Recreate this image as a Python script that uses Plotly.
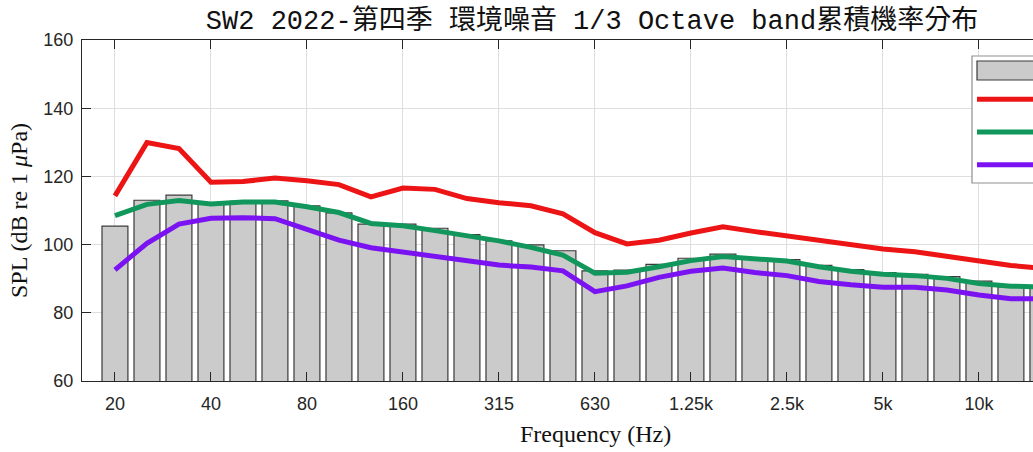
import plotly.graph_objects as go

# ---------------- data ----------------
bands = ["20", "25", "31.5", "40", "50", "63", "80", "100", "125", "160",
         "200", "250", "315", "400", "500", "630", "800", "1k", "1.25k", "1.6k",
         "2k", "2.5k", "3.15k", "4k", "5k", "6.3k", "8k", "10k", "12.5k", "16k"]

leq = [105.4, 113.0, 114.5, 112.3, 112.7, 112.8, 111.4, 109.3, 106.0, 106.0,
       104.8, 102.9, 101.1, 99.9, 98.2, 92.3, 92.5, 94.2, 96.0, 97.2,
       96.0, 95.6, 93.9, 92.7, 91.8, 91.3, 90.6, 89.3, 87.6, 87.2]

l10 = [114.3, 129.9, 128.2, 118.3, 118.5, 119.5, 118.7, 117.6, 114.0, 116.6,
       116.2, 113.5, 112.3, 111.4, 109.0, 103.5, 100.2, 101.3, 103.4, 105.2,
       103.8, 102.5, 101.4, 100.1, 98.7, 97.9, 96.5, 95.1, 93.9, 93.0]

l50 = [108.5, 111.8, 112.9, 111.9, 112.5, 112.5, 111.1, 109.4, 106.2, 105.5,
       104.1, 102.7, 101.1, 99.2, 96.9, 91.6, 91.9, 93.5, 95.3, 96.5,
       95.7, 95.2, 93.5, 92.2, 91.3, 90.9, 90.1, 88.6, 87.8, 87.6]

l90 = [92.6, 100.4, 106.0, 107.7, 107.9, 107.6, 104.5, 101.3, 99.1, 97.9,
       96.7, 95.2, 94.0, 93.4, 92.3, 86.2, 87.9, 90.4, 92.2, 93.1,
       91.8, 90.9, 89.2, 88.2, 87.5, 87.5, 86.7, 85.2, 84.1, 84.1]

tick_bands = ["20", "40", "80", "160", "315", "630", "1.25k", "2.5k", "5k", "10k"]

title_text = "SW2 2022-第四季 環境噪音 1/3 Octave band累積機率分布"

# ---------------- styles ----------------
BAR_FILL = "#cbcbcb"
BAR_EDGE = "#3a3a3a"
RED = "#ec1414"
GREEN = "#11975c"
PURPLE = "#7b12f2"
AX = "#262626"
GRID = "#dfdfdf"
LW = 5

fig = go.Figure()
fig.add_trace(go.Bar(x=bands, y=leq, name="Leq", width=0.81,
                     marker=dict(color=BAR_FILL, line=dict(color=BAR_EDGE, width=1.2))))
fig.add_trace(go.Scatter(x=bands, y=l10, name="L10", mode="lines",
                         line=dict(color=RED, width=LW)))
fig.add_trace(go.Scatter(x=bands, y=l50, name="L50", mode="lines",
                         line=dict(color=GREEN, width=LW)))
fig.add_trace(go.Scatter(x=bands, y=l90, name="L90", mode="lines",
                         line=dict(color=PURPLE, width=LW)))

# the page body margin is removed (post_script below), so the figure fills the window
OFF = 0
W, H = 1033 - OFF, 452 - OFF
ML, MT = 82 - OFF, 40 - OFF
MB = 452 - 381
pw = W - ML
ph = H - MT - MB


def px_x(p):  # window pixel -> paper x
    return (p - OFF - ML) / pw


def px_y(p):  # window pixel -> paper y
    return (H - MB - (p - OFF)) / ph


# legend (drawn manually; its right part lies outside the visible window)
shapes = [
    dict(type="rect", xref="paper", yref="paper", x0=px_x(972), x1=1.2,
         y0=px_y(183), y1=px_y(56), fillcolor="white",
         line=dict(color="#8f8f8f", width=1.2), layer="above"),
    dict(type="rect", xref="paper", yref="paper", x0=px_x(977), x1=1.15,
         y0=px_y(80), y1=px_y(61), fillcolor=BAR_FILL,
         line=dict(color=BAR_EDGE, width=1.2), layer="above"),
]
for yy, c in [(99.3, RED), (132, GREEN), (164.7, PURPLE)]:
    shapes.append(dict(type="line", xref="paper", yref="paper", x0=px_x(977), x1=1.15,
                       y0=px_y(yy), y1=px_y(yy), line=dict(color=c, width=LW),
                       layer="above"))

fig.update_layout(
    width=W, height=H,
    margin=dict(l=ML, r=0, t=MT, b=MB, autoexpand=False),
    plot_bgcolor="white", paper_bgcolor="white",
    showlegend=False,
    title=dict(text=title_text, x=px_x(592), xref="paper", xanchor="center",
               y=1 - (20 - OFF) / H, yref="container", yanchor="middle",
               font=dict(family="Liberation Mono, Noto Sans CJK TC", size=27, color="#111111")),
    shapes=shapes,
    annotations=[dict(text="Frequency (Hz)", xref="paper", yref="paper",
                      x=px_x(595), y=px_y(434), xanchor="center", yanchor="middle",
                      showarrow=False,
                      font=dict(family="Liberation Serif, Times New Roman, serif",
                                size=24, color="#111111"))],
)

fig.update_xaxes(
    type="category", categoryorder="array", categoryarray=bands,
    range=[-1.03, 28.69],
    tickmode="array", tickvals=tick_bands, ticktext=tick_bands,
    ticks="inside", ticklen=9, tickwidth=1, tickcolor=AX,
    showline=True, linecolor=AX, linewidth=1, mirror="ticks",
    showgrid=True, gridcolor=GRID, gridwidth=1,
    tickfont=dict(family="Liberation Sans, Arial, sans-serif", size=18, color=AX),
    ticklabelstandoff=6,
    zeroline=False,
)
fig.update_yaxes(
    range=[60, 160], tickmode="linear", tick0=60, dtick=20,
    ticks="inside", ticklen=9, tickwidth=1, tickcolor=AX,
    showline=True, linecolor=AX, linewidth=1, mirror=False,
    showgrid=True, gridcolor=GRID, gridwidth=1,
    tickfont=dict(family="Liberation Sans, Arial, sans-serif", size=18, color=AX),
    ticklabelstandoff=4,
    zeroline=False,
    title=dict(text="SPL (dB re 1 <i>μ</i>Pa)", standoff=8,
               font=dict(family="Liberation Serif, Times New Roman, serif",
                         size=24, color="#111111")),
)

fig.write_html(
    "out.html",
    config={"displayModeBar": False},
    post_script="document.body.style.margin='0';document.body.style.overflow='hidden';",
)
